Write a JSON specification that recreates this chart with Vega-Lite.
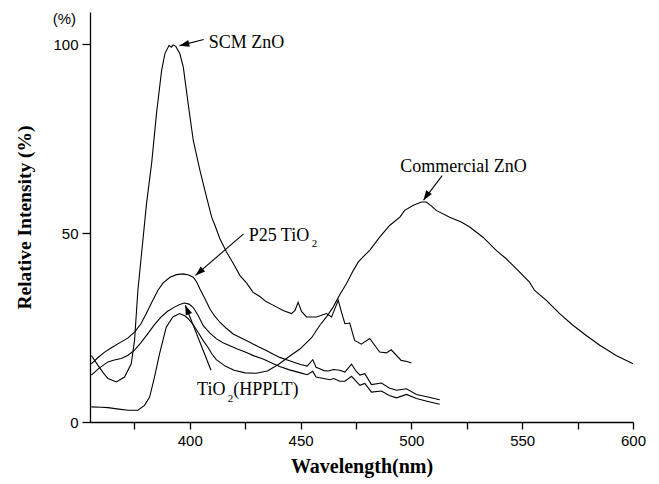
{
  "$schema": "https://vega.github.io/schema/vega-lite/v6.json",
  "width": 543,
  "height": 410,
  "autosize": {"type": "none"},
  "padding": {"left": 90, "top": 12, "right": 26, "bottom": 62},
  "background": "white",
  "config": {
    "view": {"stroke": null},
    "axis": {
      "grid": false,
      "domainColor": "black",
      "tickColor": "black",
      "labelColor": "black",
      "titleColor": "black",
      "domainWidth": 1.3,
      "tickWidth": 1.3,
      "labelFont": "Liberation Sans",
      "labelFontSize": 15,
      "titleFont": "Liberation Serif",
      "titleFontWeight": "bold"
    }
  },
  "datasets": {
    "spectra": [
      {"sample": "SCM ZnO", "wavelength": 355.6, "intensity": 17.6},
      {"sample": "SCM ZnO", "wavelength": 358.6, "intensity": 15.0},
      {"sample": "SCM ZnO", "wavelength": 361, "intensity": 13.0},
      {"sample": "SCM ZnO", "wavelength": 363.1, "intensity": 11.5},
      {"sample": "SCM ZnO", "wavelength": 366.9, "intensity": 10.6},
      {"sample": "SCM ZnO", "wavelength": 370.6, "intensity": 11.9},
      {"sample": "SCM ZnO", "wavelength": 373.6, "intensity": 15.4},
      {"sample": "SCM ZnO", "wavelength": 375.1, "intensity": 21.6},
      {"sample": "SCM ZnO", "wavelength": 376.6, "intensity": 34.8},
      {"sample": "SCM ZnO", "wavelength": 379, "intensity": 48.9},
      {"sample": "SCM ZnO", "wavelength": 380.5, "intensity": 57.8},
      {"sample": "SCM ZnO", "wavelength": 382.8, "intensity": 68.4},
      {"sample": "SCM ZnO", "wavelength": 385, "intensity": 81.6},
      {"sample": "SCM ZnO", "wavelength": 387.3, "intensity": 93.0},
      {"sample": "SCM ZnO", "wavelength": 388.8, "intensity": 97.5},
      {"sample": "SCM ZnO", "wavelength": 390.7, "intensity": 99.7},
      {"sample": "SCM ZnO", "wavelength": 391.8, "intensity": 99.2},
      {"sample": "SCM ZnO", "wavelength": 392.5, "intensity": 99.8},
      {"sample": "SCM ZnO", "wavelength": 393.7, "intensity": 99.4},
      {"sample": "SCM ZnO", "wavelength": 395.5, "intensity": 97.5},
      {"sample": "SCM ZnO", "wavelength": 397.1, "intensity": 93.9},
      {"sample": "SCM ZnO", "wavelength": 399.3, "intensity": 84.2},
      {"sample": "SCM ZnO", "wavelength": 401.6, "intensity": 74.5},
      {"sample": "SCM ZnO", "wavelength": 404.6, "intensity": 66.6},
      {"sample": "SCM ZnO", "wavelength": 407.6, "intensity": 59.5},
      {"sample": "SCM ZnO", "wavelength": 409.9, "intensity": 54.2},
      {"sample": "SCM ZnO", "wavelength": 411.4, "intensity": 52.0},
      {"sample": "SCM ZnO", "wavelength": 413.6, "intensity": 48.5},
      {"sample": "SCM ZnO", "wavelength": 416.6, "intensity": 45.0},
      {"sample": "SCM ZnO", "wavelength": 419.6, "intensity": 42.0},
      {"sample": "SCM ZnO", "wavelength": 422.6, "intensity": 38.8},
      {"sample": "SCM ZnO", "wavelength": 425.6, "intensity": 36.8},
      {"sample": "SCM ZnO", "wavelength": 428.6, "intensity": 34.3},
      {"sample": "SCM ZnO", "wavelength": 431.6, "intensity": 33.2},
      {"sample": "SCM ZnO", "wavelength": 434.6, "intensity": 31.8},
      {"sample": "SCM ZnO", "wavelength": 438, "intensity": 30.8},
      {"sample": "SCM ZnO", "wavelength": 442.1, "intensity": 29.5},
      {"sample": "SCM ZnO", "wavelength": 445.9, "intensity": 28.7},
      {"sample": "SCM ZnO", "wavelength": 447.5, "intensity": 29.5},
      {"sample": "SCM ZnO", "wavelength": 448.9, "intensity": 31.7},
      {"sample": "SCM ZnO", "wavelength": 450.5, "intensity": 29.2},
      {"sample": "SCM ZnO", "wavelength": 452.7, "intensity": 27.8},
      {"sample": "SCM ZnO", "wavelength": 457.2, "intensity": 27.8},
      {"sample": "SCM ZnO", "wavelength": 461.7, "intensity": 28.7},
      {"sample": "SCM ZnO", "wavelength": 464, "intensity": 27.8},
      {"sample": "SCM ZnO", "wavelength": 465.5, "intensity": 30.0},
      {"sample": "SCM ZnO", "wavelength": 467, "intensity": 32.2},
      {"sample": "SCM ZnO", "wavelength": 468.5, "intensity": 29.0},
      {"sample": "SCM ZnO", "wavelength": 470, "intensity": 26.0},
      {"sample": "SCM ZnO", "wavelength": 472.2, "intensity": 26.2},
      {"sample": "SCM ZnO", "wavelength": 474.4, "intensity": 21.6},
      {"sample": "SCM ZnO", "wavelength": 477.4, "intensity": 20.6},
      {"sample": "SCM ZnO", "wavelength": 481.2, "intensity": 22.1},
      {"sample": "SCM ZnO", "wavelength": 485.7, "intensity": 18.5},
      {"sample": "SCM ZnO", "wavelength": 488.7, "intensity": 18.3},
      {"sample": "SCM ZnO", "wavelength": 490.9, "intensity": 19.1},
      {"sample": "SCM ZnO", "wavelength": 495.4, "intensity": 16.3},
      {"sample": "SCM ZnO", "wavelength": 498, "intensity": 16.0},
      {"sample": "SCM ZnO", "wavelength": 500, "intensity": 15.6},

      {"sample": "P25 TiO2", "wavelength": 355.6, "intensity": 15.4},
      {"sample": "P25 TiO2", "wavelength": 358.5, "intensity": 17.0},
      {"sample": "P25 TiO2", "wavelength": 361.6, "intensity": 18.5},
      {"sample": "P25 TiO2", "wavelength": 365, "intensity": 19.8},
      {"sample": "P25 TiO2", "wavelength": 369.1, "intensity": 21.2},
      {"sample": "P25 TiO2", "wavelength": 372, "intensity": 22.2},
      {"sample": "P25 TiO2", "wavelength": 375.1, "intensity": 23.8},
      {"sample": "P25 TiO2", "wavelength": 378, "intensity": 26.0},
      {"sample": "P25 TiO2", "wavelength": 380.4, "intensity": 28.7},
      {"sample": "P25 TiO2", "wavelength": 383, "intensity": 31.8},
      {"sample": "P25 TiO2", "wavelength": 385.6, "intensity": 34.8},
      {"sample": "P25 TiO2", "wavelength": 388, "intensity": 36.8},
      {"sample": "P25 TiO2", "wavelength": 391.1, "intensity": 38.3},
      {"sample": "P25 TiO2", "wavelength": 394, "intensity": 39.0},
      {"sample": "P25 TiO2", "wavelength": 397.1, "intensity": 39.2},
      {"sample": "P25 TiO2", "wavelength": 399.5, "intensity": 38.9},
      {"sample": "P25 TiO2", "wavelength": 401.6, "intensity": 38.3},
      {"sample": "P25 TiO2", "wavelength": 403.2, "intensity": 37.0},
      {"sample": "P25 TiO2", "wavelength": 404.6, "intensity": 35.2},
      {"sample": "P25 TiO2", "wavelength": 407, "intensity": 32.5},
      {"sample": "P25 TiO2", "wavelength": 409.1, "intensity": 29.9},
      {"sample": "P25 TiO2", "wavelength": 411.3, "intensity": 28.0},
      {"sample": "P25 TiO2", "wavelength": 413.6, "intensity": 26.4},
      {"sample": "P25 TiO2", "wavelength": 416.5, "intensity": 24.8},
      {"sample": "P25 TiO2", "wavelength": 419.6, "intensity": 23.3},
      {"sample": "P25 TiO2", "wavelength": 423, "intensity": 22.3},
      {"sample": "P25 TiO2", "wavelength": 427.1, "intensity": 21.1},
      {"sample": "P25 TiO2", "wavelength": 431, "intensity": 19.9},
      {"sample": "P25 TiO2", "wavelength": 434.6, "intensity": 18.9},
      {"sample": "P25 TiO2", "wavelength": 437.5, "intensity": 18.0},
      {"sample": "P25 TiO2", "wavelength": 440.6, "intensity": 17.1},
      {"sample": "P25 TiO2", "wavelength": 445, "intensity": 16.2},
      {"sample": "P25 TiO2", "wavelength": 450, "intensity": 15.2},
      {"sample": "P25 TiO2", "wavelength": 453, "intensity": 14.8},
      {"sample": "P25 TiO2", "wavelength": 455.5, "intensity": 16.5},
      {"sample": "P25 TiO2", "wavelength": 457, "intensity": 14.5},
      {"sample": "P25 TiO2", "wavelength": 458.7, "intensity": 14.1},
      {"sample": "P25 TiO2", "wavelength": 460.5, "intensity": 13.6},
      {"sample": "P25 TiO2", "wavelength": 462.5, "intensity": 13.5},
      {"sample": "P25 TiO2", "wavelength": 464.9, "intensity": 13.9},
      {"sample": "P25 TiO2", "wavelength": 467.7, "intensity": 13.7},
      {"sample": "P25 TiO2", "wavelength": 470, "intensity": 13.2},
      {"sample": "P25 TiO2", "wavelength": 473, "intensity": 15.3},
      {"sample": "P25 TiO2", "wavelength": 475, "intensity": 13.5},
      {"sample": "P25 TiO2", "wavelength": 476.8, "intensity": 12.4},
      {"sample": "P25 TiO2", "wavelength": 479, "intensity": 12.8},
      {"sample": "P25 TiO2", "wavelength": 482, "intensity": 9.9},
      {"sample": "P25 TiO2", "wavelength": 486.5, "intensity": 10.3},
      {"sample": "P25 TiO2", "wavelength": 490, "intensity": 9.0},
      {"sample": "P25 TiO2", "wavelength": 493.3, "intensity": 8.4},
      {"sample": "P25 TiO2", "wavelength": 497.8, "intensity": 8.8},
      {"sample": "P25 TiO2", "wavelength": 502.3, "intensity": 7.3},
      {"sample": "P25 TiO2", "wavelength": 507, "intensity": 6.7},
      {"sample": "P25 TiO2", "wavelength": 512.8, "intensity": 5.9},

      {"sample": "TiO2(HPPLT)", "wavelength": 355.6, "intensity": 12.4},
      {"sample": "TiO2(HPPLT)", "wavelength": 359, "intensity": 14.2},
      {"sample": "TiO2(HPPLT)", "wavelength": 363.1, "intensity": 15.9},
      {"sample": "TiO2(HPPLT)", "wavelength": 366, "intensity": 16.4},
      {"sample": "TiO2(HPPLT)", "wavelength": 369.1, "intensity": 16.8},
      {"sample": "TiO2(HPPLT)", "wavelength": 372, "intensity": 17.6},
      {"sample": "TiO2(HPPLT)", "wavelength": 375.1, "intensity": 19.0},
      {"sample": "TiO2(HPPLT)", "wavelength": 378, "intensity": 21.0},
      {"sample": "TiO2(HPPLT)", "wavelength": 381.1, "intensity": 23.4},
      {"sample": "TiO2(HPPLT)", "wavelength": 384, "intensity": 25.7},
      {"sample": "TiO2(HPPLT)", "wavelength": 387.1, "intensity": 27.8},
      {"sample": "TiO2(HPPLT)", "wavelength": 390, "intensity": 29.3},
      {"sample": "TiO2(HPPLT)", "wavelength": 393.1, "intensity": 30.4},
      {"sample": "TiO2(HPPLT)", "wavelength": 395.5, "intensity": 31.1},
      {"sample": "TiO2(HPPLT)", "wavelength": 397.6, "intensity": 31.5},
      {"sample": "TiO2(HPPLT)", "wavelength": 399.7, "intensity": 31.2},
      {"sample": "TiO2(HPPLT)", "wavelength": 401.6, "intensity": 30.3},
      {"sample": "TiO2(HPPLT)", "wavelength": 403.8, "intensity": 28.2},
      {"sample": "TiO2(HPPLT)", "wavelength": 406.1, "intensity": 25.5},
      {"sample": "TiO2(HPPLT)", "wavelength": 409, "intensity": 23.6},
      {"sample": "TiO2(HPPLT)", "wavelength": 412.1, "intensity": 22.0},
      {"sample": "TiO2(HPPLT)", "wavelength": 415, "intensity": 21.0},
      {"sample": "TiO2(HPPLT)", "wavelength": 418.1, "intensity": 20.2},
      {"sample": "TiO2(HPPLT)", "wavelength": 421.5, "intensity": 19.3},
      {"sample": "TiO2(HPPLT)", "wavelength": 425.6, "intensity": 18.4},
      {"sample": "TiO2(HPPLT)", "wavelength": 429, "intensity": 17.5},
      {"sample": "TiO2(HPPLT)", "wavelength": 433.1, "intensity": 16.7},
      {"sample": "TiO2(HPPLT)", "wavelength": 437, "intensity": 15.6},
      {"sample": "TiO2(HPPLT)", "wavelength": 440.6, "intensity": 14.7},
      {"sample": "TiO2(HPPLT)", "wavelength": 445, "intensity": 13.8},
      {"sample": "TiO2(HPPLT)", "wavelength": 450, "intensity": 13.0},
      {"sample": "TiO2(HPPLT)", "wavelength": 453, "intensity": 12.5},
      {"sample": "TiO2(HPPLT)", "wavelength": 455.5, "intensity": 13.4},
      {"sample": "TiO2(HPPLT)", "wavelength": 457, "intensity": 11.9},
      {"sample": "TiO2(HPPLT)", "wavelength": 458.7, "intensity": 11.7},
      {"sample": "TiO2(HPPLT)", "wavelength": 463.2, "intensity": 11.2},
      {"sample": "TiO2(HPPLT)", "wavelength": 465, "intensity": 11.5},
      {"sample": "TiO2(HPPLT)", "wavelength": 467.7, "intensity": 10.8},
      {"sample": "TiO2(HPPLT)", "wavelength": 470, "intensity": 10.8},
      {"sample": "TiO2(HPPLT)", "wavelength": 473, "intensity": 12.1},
      {"sample": "TiO2(HPPLT)", "wavelength": 476.8, "intensity": 9.7},
      {"sample": "TiO2(HPPLT)", "wavelength": 479, "intensity": 10.2},
      {"sample": "TiO2(HPPLT)", "wavelength": 482, "intensity": 7.9},
      {"sample": "TiO2(HPPLT)", "wavelength": 486.5, "intensity": 8.2},
      {"sample": "TiO2(HPPLT)", "wavelength": 490, "intensity": 7.0},
      {"sample": "TiO2(HPPLT)", "wavelength": 493.3, "intensity": 6.4},
      {"sample": "TiO2(HPPLT)", "wavelength": 497.8, "intensity": 7.3},
      {"sample": "TiO2(HPPLT)", "wavelength": 502.3, "intensity": 6.2},
      {"sample": "TiO2(HPPLT)", "wavelength": 507, "intensity": 5.5},
      {"sample": "TiO2(HPPLT)", "wavelength": 512.8, "intensity": 4.7},

      {"sample": "Commercial ZnO", "wavelength": 355.6, "intensity": 4.0},
      {"sample": "Commercial ZnO", "wavelength": 360, "intensity": 3.9},
      {"sample": "Commercial ZnO", "wavelength": 363.1, "intensity": 3.8},
      {"sample": "Commercial ZnO", "wavelength": 368, "intensity": 3.4},
      {"sample": "Commercial ZnO", "wavelength": 372.1, "intensity": 3.1},
      {"sample": "Commercial ZnO", "wavelength": 376.6, "intensity": 3.1},
      {"sample": "Commercial ZnO", "wavelength": 379.6, "intensity": 4.4},
      {"sample": "Commercial ZnO", "wavelength": 381.9, "intensity": 6.6},
      {"sample": "Commercial ZnO", "wavelength": 384.1, "intensity": 11.9},
      {"sample": "Commercial ZnO", "wavelength": 386.4, "intensity": 18.1},
      {"sample": "Commercial ZnO", "wavelength": 389.4, "intensity": 25.1},
      {"sample": "Commercial ZnO", "wavelength": 392.4, "intensity": 27.8},
      {"sample": "Commercial ZnO", "wavelength": 395.4, "intensity": 28.7},
      {"sample": "Commercial ZnO", "wavelength": 397.5, "intensity": 28.2},
      {"sample": "Commercial ZnO", "wavelength": 399.2, "intensity": 27.4},
      {"sample": "Commercial ZnO", "wavelength": 401.5, "intensity": 25.8},
      {"sample": "Commercial ZnO", "wavelength": 403.7, "intensity": 23.8},
      {"sample": "Commercial ZnO", "wavelength": 406, "intensity": 21.6},
      {"sample": "Commercial ZnO", "wavelength": 408.2, "intensity": 19.8},
      {"sample": "Commercial ZnO", "wavelength": 410, "intensity": 18.0},
      {"sample": "Commercial ZnO", "wavelength": 412, "intensity": 16.5},
      {"sample": "Commercial ZnO", "wavelength": 416, "intensity": 14.8},
      {"sample": "Commercial ZnO", "wavelength": 420, "intensity": 13.7},
      {"sample": "Commercial ZnO", "wavelength": 425, "intensity": 13.0},
      {"sample": "Commercial ZnO", "wavelength": 430, "intensity": 12.9},
      {"sample": "Commercial ZnO", "wavelength": 435, "intensity": 13.5},
      {"sample": "Commercial ZnO", "wavelength": 440, "intensity": 15.2},
      {"sample": "Commercial ZnO", "wavelength": 445, "intensity": 17.4},
      {"sample": "Commercial ZnO", "wavelength": 449.7, "intensity": 19.3},
      {"sample": "Commercial ZnO", "wavelength": 455, "intensity": 22.3},
      {"sample": "Commercial ZnO", "wavelength": 458.7, "intensity": 25.6},
      {"sample": "Commercial ZnO", "wavelength": 461.7, "intensity": 27.8},
      {"sample": "Commercial ZnO", "wavelength": 464.7, "intensity": 30.4},
      {"sample": "Commercial ZnO", "wavelength": 468, "intensity": 34.0},
      {"sample": "Commercial ZnO", "wavelength": 470.7, "intensity": 36.6},
      {"sample": "Commercial ZnO", "wavelength": 473.7, "intensity": 40.0},
      {"sample": "Commercial ZnO", "wavelength": 476, "intensity": 42.3},
      {"sample": "Commercial ZnO", "wavelength": 478.2, "intensity": 43.7},
      {"sample": "Commercial ZnO", "wavelength": 481.2, "intensity": 45.4},
      {"sample": "Commercial ZnO", "wavelength": 485.7, "intensity": 48.9},
      {"sample": "Commercial ZnO", "wavelength": 490.2, "intensity": 52.0},
      {"sample": "Commercial ZnO", "wavelength": 494.8, "intensity": 54.2},
      {"sample": "Commercial ZnO", "wavelength": 497, "intensity": 56.0},
      {"sample": "Commercial ZnO", "wavelength": 500.7, "intensity": 57.3},
      {"sample": "Commercial ZnO", "wavelength": 504.5, "intensity": 58.2},
      {"sample": "Commercial ZnO", "wavelength": 506.7, "intensity": 58.2},
      {"sample": "Commercial ZnO", "wavelength": 509, "intensity": 57.2},
      {"sample": "Commercial ZnO", "wavelength": 511.2, "intensity": 56.0},
      {"sample": "Commercial ZnO", "wavelength": 517.3, "intensity": 54.2},
      {"sample": "Commercial ZnO", "wavelength": 522.5, "intensity": 52.9},
      {"sample": "Commercial ZnO", "wavelength": 526.3, "intensity": 51.6},
      {"sample": "Commercial ZnO", "wavelength": 532.3, "intensity": 48.9},
      {"sample": "Commercial ZnO", "wavelength": 538.3, "intensity": 45.4},
      {"sample": "Commercial ZnO", "wavelength": 542.8, "intensity": 43.2},
      {"sample": "Commercial ZnO", "wavelength": 547.3, "intensity": 40.6},
      {"sample": "Commercial ZnO", "wavelength": 553.3, "intensity": 37.0},
      {"sample": "Commercial ZnO", "wavelength": 555.6, "intensity": 34.8},
      {"sample": "Commercial ZnO", "wavelength": 560.9, "intensity": 32.2},
      {"sample": "Commercial ZnO", "wavelength": 566.9, "intensity": 28.7},
      {"sample": "Commercial ZnO", "wavelength": 572.9, "intensity": 25.6},
      {"sample": "Commercial ZnO", "wavelength": 578.9, "intensity": 22.9},
      {"sample": "Commercial ZnO", "wavelength": 585, "intensity": 20.3},
      {"sample": "Commercial ZnO", "wavelength": 592.4, "intensity": 17.6},
      {"sample": "Commercial ZnO", "wavelength": 600, "intensity": 15.4}
    ],
    "labels": [
      {"kind": "main", "text": "SCM ZnO", "wavelength": 408.6, "intensity": 98.9},
      {"kind": "main", "text": "Commercial ZnO", "wavelength": 495.0, "intensity": 66.1},
      {"kind": "main", "text": "P25 TiO", "wavelength": 426.6, "intensity": 47.8},
      {"kind": "sub", "text": "2", "wavelength": 455.1, "intensity": 46.2},
      {"kind": "main", "text": "TiO", "wavelength": 403.3, "intensity": 7.1},
      {"kind": "sub", "text": "2", "wavelength": 417.1, "intensity": 5.3},
      {"kind": "main", "text": "(HPPLT)", "wavelength": 419.6, "intensity": 7.1}
    ],
    "unit": [
      {"text": "(%)", "wavelength": 343.4, "intensity": 105.2}
    ],
    "arrows": [
      {"target": "SCM ZnO", "wavelength": 406.3, "intensity": 101.2, "tipWavelength": 395.4, "tipIntensity": 99.6},
      {"target": "Commercial ZnO", "wavelength": 513.9, "intensity": 65.2, "tipWavelength": 505.5, "tipIntensity": 58.7},
      {"target": "P25 TiO2", "wavelength": 424.3, "intensity": 49.8, "tipWavelength": 402.6, "tipIntensity": 38.8},
      {"target": "TiO2(HPPLT)", "wavelength": 409.6, "intensity": 13.7, "tipWavelength": 398.0, "tipIntensity": 30.9}
    ]
  },
  "encoding": {
    "x": {
      "field": "wavelength",
      "type": "quantitative",
      "title": "Wavelength(nm)",
      "scale": {"domain": [355, 600], "nice": false, "zero": false},
      "axis": {
        "values": [375, 400, 425, 450, 475, 500, 525, 550, 575, 600],
        "labelExpr": "datum.value % 50 === 0 ? datum.label : ''",
        "tickSize": 7,
        "labelPadding": 4,
        "labelFlush": false,
        "labelOverlap": false,
        "titleFontSize": 20,
        "titlePadding": 8
      }
    },
    "y": {
      "field": "intensity",
      "type": "quantitative",
      "title": "Relative Intensity (%)",
      "scale": {"domain": [0, 108.5], "nice": false},
      "axis": {
        "values": [0, 50, 100],
        "tickSize": 8,
        "labelPadding": 4,
        "labelFlush": false,
        "titleFontSize": 19.5,
        "titlePadding": 18
      }
    }
  },
  "layer": [
    {
      "data": {"name": "spectra"},
      "mark": {"type": "line", "color": "black", "strokeWidth": 1.1},
      "encoding": {"detail": {"field": "sample"}}
    },
    {
      "data": {"name": "arrows"},
      "mark": {"type": "rule", "color": "black", "strokeWidth": 1.1},
      "encoding": {
        "x2": {"field": "tipWavelength"},
        "y2": {"field": "tipIntensity"}
      }
    },
    {
      "data": {"name": "arrows"},
      "transform": [{"filter": "datum.target === 'SCM ZnO'"}],
      "mark": {"type": "point", "shape": "M0,0L-0.35,1L0.35,1Z", "filled": true, "color": "black", "opacity": 1, "size": 380, "angle": 256.6},
      "encoding": {
        "x": {"field": "tipWavelength", "type": "quantitative", "title": "Wavelength(nm)"},
        "y": {"field": "tipIntensity", "type": "quantitative", "title": "Relative Intensity (%)"}
      }
    },
    {
      "data": {"name": "arrows"},
      "transform": [{"filter": "datum.target === 'Commercial ZnO'"}],
      "mark": {"type": "point", "shape": "M0,0L-0.35,1L0.35,1Z", "filled": true, "color": "black", "opacity": 1, "size": 380, "angle": 213.7},
      "encoding": {
        "x": {"field": "tipWavelength", "type": "quantitative", "title": "Wavelength(nm)"},
        "y": {"field": "tipIntensity", "type": "quantitative", "title": "Relative Intensity (%)"}
      }
    },
    {
      "data": {"name": "arrows"},
      "transform": [{"filter": "datum.target === 'P25 TiO2'"}],
      "mark": {"type": "point", "shape": "M0,0L-0.35,1L0.35,1Z", "filled": true, "color": "black", "opacity": 1, "size": 380, "angle": 229.2},
      "encoding": {
        "x": {"field": "tipWavelength", "type": "quantitative", "title": "Wavelength(nm)"},
        "y": {"field": "tipIntensity", "type": "quantitative", "title": "Relative Intensity (%)"}
      }
    },
    {
      "data": {"name": "arrows"},
      "transform": [{"filter": "datum.target === 'TiO2(HPPLT)'"}],
      "mark": {"type": "point", "shape": "M0,0L-0.35,1L0.35,1Z", "filled": true, "color": "black", "opacity": 1, "size": 380, "angle": 338.4},
      "encoding": {
        "x": {"field": "tipWavelength", "type": "quantitative", "title": "Wavelength(nm)"},
        "y": {"field": "tipIntensity", "type": "quantitative", "title": "Relative Intensity (%)"}
      }
    },
    {
      "data": {"name": "labels"},
      "transform": [{"filter": "datum.kind === 'main'"}],
      "mark": {"type": "text", "font": "Liberation Serif", "fontSize": 18, "align": "left", "baseline": "alphabetic", "color": "black"},
      "encoding": {"text": {"field": "text"}}
    },
    {
      "data": {"name": "labels"},
      "transform": [{"filter": "datum.kind === 'sub'"}],
      "mark": {"type": "text", "font": "Liberation Serif", "fontSize": 11, "align": "left", "baseline": "alphabetic", "color": "black"},
      "encoding": {"text": {"field": "text"}}
    },
    {
      "data": {"name": "unit"},
      "mark": {"type": "text", "font": "Liberation Sans", "fontSize": 15, "align": "center", "baseline": "alphabetic", "color": "black", "clip": false},
      "encoding": {"text": {"field": "text"}}
    }
  ]
}
